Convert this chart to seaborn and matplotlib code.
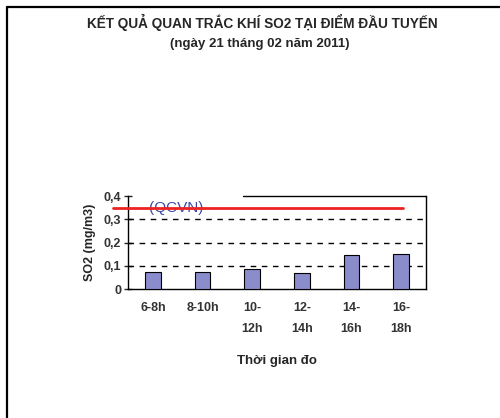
import matplotlib
matplotlib.use("Agg")
import matplotlib.pyplot as plt
import matplotlib.lines as mlines
import seaborn as sns
import pandas as pd

# Measurement periods and SO2 concentrations (mg/m3)
periods = ["6-8h", "8-10h", "10-\n12h", "12-\n14h", "14-\n16h", "16-\n18h"]
so2 = [0.075, 0.075, 0.085, 0.068, 0.145, 0.152]
qcvn_limit = 0.35
y_ticks = [0, 0.1, 0.2, 0.3, 0.4]
y_tick_labels = ["0", "0,1", "0,2", "0,3", "0,4"]

sns.set_style("white")
plt.rcParams["font.family"] = ["Liberation Sans", "DejaVu Sans"]

df = pd.DataFrame({"period": periods, "so2": so2})

fig = plt.figure(figsize=(5.0, 4.18), dpi=100)
ax = fig.add_axes([0.256, 0.3086, 0.596, 0.2225])

sns.barplot(data=df, x="period", y="so2", color="#8a8ccc", width=0.32,
            edgecolor="black", linewidth=0.8, saturation=1, ax=ax, zorder=3)

ax.set_xlim(-0.5, len(periods) - 0.5)
ax.set_ylim(0, 0.4)
ax.set_yticks(y_ticks)
ax.set_yticklabels(y_tick_labels, fontsize=9, fontweight="bold", color="#333333")
ax.set_xticks(range(len(periods)))
ax.set_xticklabels(periods, fontsize=9, fontweight="bold", color="#333333",
                   linespacing=2.0)
ax.tick_params(axis="x", length=0, pad=9)
ax.set_xticks([k + 0.5 for k in range(len(periods))], minor=True)
ax.tick_params(axis="x", which="minor", length=4, direction="out", width=1)
ax.tick_params(axis="y", length=6, direction="inout", width=1, pad=2, left=True)

for y in y_ticks[1:-1]:
    ax.axhline(y, color="black", linestyle=(0, (4, 4)), linewidth=1, zorder=1)

for side in ["left", "bottom", "right"]:
    ax.spines[side].set_visible(True)
    ax.spines[side].set_color("black")
    ax.spines[side].set_linewidth(1)
ax.spines["top"].set_visible(False)
ax.plot([0.386, 1.0], [1.0, 1.0], transform=ax.transAxes, color="black",
        linewidth=1, clip_on=False, zorder=4)

# QCVN limit line
ax.plot([-0.05, 0.923], [qcvn_limit / 0.4] * 2, transform=ax.transAxes,
        color="#ee2222", linewidth=2, clip_on=False, zorder=5)
ax.text(0.072, qcvn_limit / 0.4, "(QCVN)", transform=ax.transAxes,
        fontsize=11, color="#3a4aa8", va="center", ha="left", zorder=4)

ax.set_xlabel("Thời gian đo", fontsize=9.5, fontweight="bold", labelpad=15)
ax.set_ylabel("SO2 (mg/m3)", fontsize=9, fontweight="bold", labelpad=5)

fig.text(0.524, 0.947, "KẾT QUẢ QUAN TRẮC KHÍ SO2 TẠI ĐIỂM ĐẦU TUYẾN",
         ha="center", va="center", fontsize=9.8, fontweight="bold")
fig.text(0.52, 0.895, "(ngày 21 tháng 02 năm 2011)",
         ha="center", va="center", fontsize=9.5, fontweight="bold")

# Outer frame (top and left edges)
fig.add_artist(mlines.Line2D([0.013, 1.0], [0.983, 0.983], color="black", linewidth=1.6))
fig.add_artist(mlines.Line2D([0.013, 0.013], [0.0, 0.983], color="black", linewidth=1.6))

fig.savefig("out.png", dpi=100)
